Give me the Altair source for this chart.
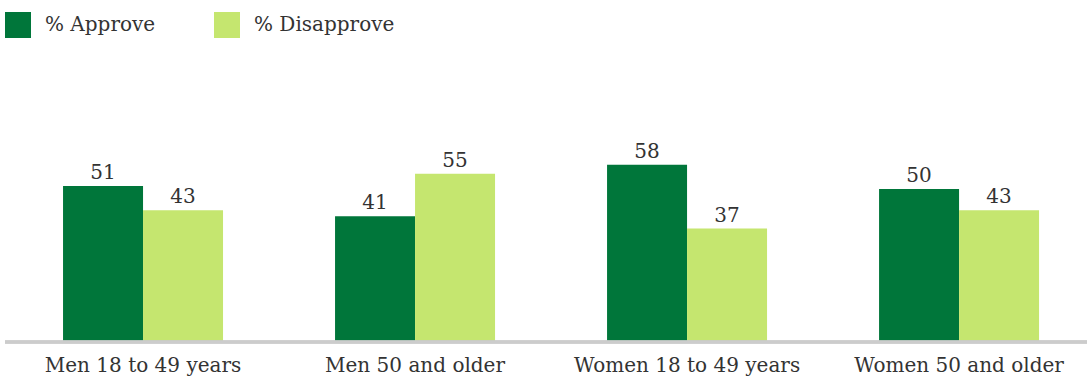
import altair as alt
import pandas as pd

groups = ["Men 18 to 49 years", "Men 50 and older", "Women 18 to 49 years", "Women 50 and older"]
series = ["% Approve", "% Disapprove"]
approve = [51, 41, 58, 50]
disapprove = [43, 55, 37, 43]
colors = ["#00763A", "#C5E66F"]

rows = []
for g, a, d in zip(groups, approve, disapprove):
    rows.append({"group": g, "series": series[0], "value": a})
    rows.append({"group": g, "series": series[1], "value": d})
df = pd.DataFrame(rows)

FONT = "DejaVu Serif"

x = alt.X("group:N", sort=groups, title=None,
          scale=alt.Scale(paddingInner=0.4118, paddingOuter=0.204, align=0.568),
          axis=alt.Axis(domain=False, ticks=False, labelAngle=0, labelFont=FONT,
                        labelFontSize=20, labelColor="#333333", labelPadding=14,
                        labelLimit=400))
xoff = alt.XOffset("series:N", sort=series, scale=alt.Scale(paddingInner=0, paddingOuter=0))
y = alt.Y("value:Q", scale=alt.Scale(domain=[0, 100], nice=False), axis=None)
color = alt.Color("series:N", sort=series,
                  scale=alt.Scale(domain=series, range=colors),
                  legend=alt.Legend(title=None, orient="none", direction="horizontal",
                                    legendX=5, legendY=-25, symbolType="square",
                                    symbolSize=676, symbolStrokeWidth=0, symbolOpacity=1,
                                    labelFont=FONT, labelFontSize=20, labelColor="#333333",
                                    labelOffset=14, columnPadding=58, padding=0))

base = alt.Chart(df)
bars = base.mark_bar(size=80).encode(x=x, xOffset=xoff, y=y, color=color)
labels = base.mark_text(baseline="alphabetic", dy=-7, font=FONT, fontSize=20,
                        color="#333333").encode(x=x, xOffset=xoff, y=y, text="value:Q")
rule = base.mark_rule(color="#cccccc", strokeWidth=2.5).encode(
    x=alt.value(5), x2=alt.value(1100), y=alt.value(305))

chart = alt.layer(bars, labels, rule).properties(
    width=1087, height=304,
    autosize=alt.AutoSizeParams(type="none"),
    padding={"top": 37, "left": 0, "right": 0, "bottom": 42},
    background="white",
).configure_view(stroke=None, strokeWidth=0)

chart.save("out.html", embed_options={"renderer": "svg", "actions": False})
